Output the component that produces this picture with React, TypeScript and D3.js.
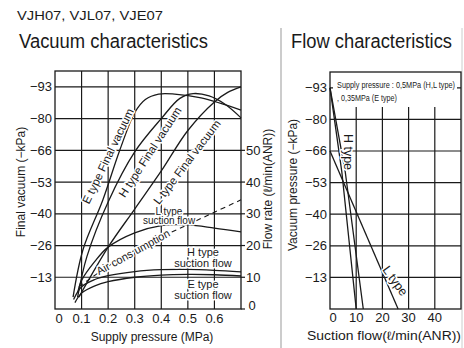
import React from 'react';
import * as d3 from 'd3';

// ---- axis ticks ----
const pressureTicks = [0, 0.1, 0.2, 0.3, 0.4, 0.5, 0.6];
const vacuumTicks = [13.33, 26.67, 40, 53.33, 66.67, 80, 93.33];
const vacuumLabels = ['−13', '−26', '−40', '−53', '−66', '−80', '−93'];
const flowRateTicks = [0, 10, 20, 30, 40, 50];
const suctionTicks = [0, 10, 20, 30, 40];

// ---- vacuum characteristics: [supply pressure MPa, final vacuum kPa] ----
const eFinalVacuum = [[0.068, 5], [0.105, 24.8], [0.18, 45.8], [0.244, 66.8], [0.3, 82.5], [0.34, 88], [0.39, 90.3], [0.45, 90.3], [0.55, 88.7], [0.7, 83.6]];
const hFinalVacuum = [[0.085, 5], [0.12, 22], [0.2, 45], [0.3, 66], [0.4, 80], [0.47, 88.5], [0.52, 90.5], [0.58, 89.5], [0.64, 86], [0.7, 80.3]];
const lFinalVacuum = [[0.09, 5], [0.2, 26], [0.3, 42], [0.4, 58], [0.5, 75], [0.6, 87], [0.65, 91], [0.7, 93.3]];

// [supply pressure MPa, flow l/min]
const lSuctionFlow = [[0.085, 5], [0.1, 9], [0.15, 15], [0.2, 19.5], [0.3, 24], [0.4, 26.3], [0.5, 26.5], [0.6, 25.5], [0.7, 24.3]];
const airConsumption = [[0.09, 7], [0.2, 13.5], [0.3, 18.5], [0.4, 22.7], [0.5, 26.6], [0.6, 30.5], [0.7, 34.4]];
const hSuctionFlow = [[0.07, 3], [0.1, 7], [0.15, 9.3], [0.2, 10.5], [0.3, 11.8], [0.4, 12.4], [0.5, 12.5], [0.6, 12.2], [0.7, 11.7]];
const eSuctionFlow = [[0.075, 2], [0.1, 5], [0.15, 7.3], [0.2, 8.6], [0.3, 10], [0.4, 10.7], [0.5, 10.9], [0.6, 10.8], [0.7, 10.4]];

// ---- flow characteristics: [suction flow l/min, vacuum kPa] ----
const hFlowLine = [[0, 93.3], [4.5, 58], [10, 0]];
const eFlowLine = [[0, 93.3], [5.8, 58], [12.7, 0]];
const lFlowLine = [[0, 66.7], [26, 0]];

const FONT = '"Liberation Sans", Arial, Helvetica, sans-serif';
const INK = '#1a1a1a';

export default function App() {
  // left chart
  const x = d3.scaleLinear().domain([0, 0.7]).range([55, 241]);
  const yV = d3.scaleLinear().domain([0, 100]).range([309, 71]);
  const yF = d3.scaleLinear().domain([0, 75]).range([309, 71]);
  // right chart
  const x2 = d3.scaleLinear().domain([0, 50]).range([330, 461]);
  const y2 = d3.scaleLinear().domain([0, 100]).range([309, 72]);

  const vacLine = d3.line<number[]>().x(d => x(d[0])).y(d => yV(d[1])).curve(d3.curveCatmullRom);
  const flowLine = d3.line<number[]>().x(d => x(d[0])).y(d => yF(d[1])).curve(d3.curveCatmullRom);
  const sucLine = d3.line<number[]>().x(d => x2(d[0])).y(d => y2(d[1]));

  const halo = { stroke: '#fff', strokeWidth: 3, paintOrder: 'stroke' as const, strokeLinejoin: 'round' as const };

  return (
    <svg width={464} height={348} style={{ position: 'absolute', left: 0, top: 0, background: '#fff' }} fontFamily={FONT}>
      <rect width={464} height={348} fill="#fff" />
      {/* header */}
      <text x={17} y={20} fontSize={13.5} textLength={146} lengthAdjust="spacingAndGlyphs" fill={INK}>VJH07, VJL07, VJE07</text>
      <line x1={281} x2={281} y1={28} y2={348} stroke="#999" strokeWidth={1} />
      <line x1={462} x2={462} y1={28} y2={348} stroke="#ccc" strokeWidth={1} />
      <text x={19} y={48} fontSize={19.5} textLength={189} lengthAdjust="spacingAndGlyphs" fill={INK}>Vacuum characteristics</text>
      <text x={291} y={48} fontSize={19.5} textLength={161} lengthAdjust="spacingAndGlyphs" fill={INK}>Flow characteristics</text>

      {/* ===== left: vacuum characteristics ===== */}
      <g stroke={INK} strokeWidth={1.2}>
        {pressureTicks.slice(1).map(t => (
          <line key={'vx' + t} x1={x(t)} x2={x(t)} y1={yV(100)} y2={yV(0)} />
        ))}
        {vacuumTicks.map(t => (
          <line key={'vy' + t} x1={x(0)} x2={x(0.7)} y1={yV(t)} y2={yV(t)} />
        ))}
        {flowRateTicks.map(t => (
          <line key={'fr' + t} x1={x(0.7)} x2={x(0.7) + 4} y1={yF(t)} y2={yF(t)} />
        ))}
      </g>
      <rect x={x(0)} y={yV(100)} width={x(0.7) - x(0)} height={yV(0) - yV(100)} fill="none" stroke={INK} strokeWidth={1.3} />

      <g fontSize={13} fill={INK}>
        {vacuumTicks.map((t, i) => (
          <text key={'vl' + t} x={52} y={yV(t) + 4.5} textAnchor="end">{vacuumLabels[i]}</text>
        ))}
        {pressureTicks.map(t => (
          <text key={'pl' + t} x={x(t) + (t === 0 ? 4 : 0)} y={323} textAnchor="middle">{t === 0 ? '0' : t.toFixed(1)}</text>
        ))}
        {flowRateTicks.map(t => (
          <text key={'fl' + t} x={t === 0 ? 252 : 246} y={yF(t) + (t === 0 ? 1 : 4.5)} textAnchor={t === 0 ? 'middle' : 'start'}>{t}</text>
        ))}
      </g>

      <g fill="none" stroke={INK} strokeWidth={1.3}>
        <path d={vacLine(eFinalVacuum) || ''} />
        <path d={vacLine(hFinalVacuum) || ''} />
        <path d={vacLine(lFinalVacuum) || ''} />
        <path d={flowLine(lSuctionFlow) || ''} />
        <path d={flowLine(hSuctionFlow) || ''} />
        <path d={flowLine(eSuctionFlow) || ''} />
        <path d={flowLine(airConsumption) || ''} strokeDasharray="5,4" strokeWidth={1.1} />
      </g>

      <g fill={INK} fontSize={11.5} textAnchor="middle" {...halo}>
        <text transform="translate(108,156) rotate(-64.4)" y={4}>E type Final vacuum</text>
        <text transform="translate(150,152) rotate(-57)" y={4}>H type Final vacuum</text>
        <text transform="translate(187,162) rotate(-52.6)" y={4}>L type Final vacuum</text>
        <text transform="translate(133,252) rotate(-29)" y={4} fontSize={11}>Air cons umption</text>
      </g>
      <g fill={INK} textAnchor="middle" {...halo}>
        <text x={169} y={215} fontSize={10}>L type</text>
        <text x={169} y={224} fontSize={10}>suction flow</text>
        <text x={203} y={256} fontSize={11}>H type</text>
        <text x={203} y={267} fontSize={11}>suction flow</text>
        <text x={203} y={288} fontSize={11}>E type</text>
        <text x={203} y={299} fontSize={11}>suction flow</text>
      </g>

      <text transform="translate(25,182) rotate(-90)" textAnchor="middle" fontSize={12} fill={INK}>Final vacuum (−kPa)</text>
      <text transform="translate(272,189) rotate(-90)" textAnchor="middle" fontSize={12} fill={INK}>Flow rate (ℓ/min(ANR))</text>
      <text x={152} y={341} textAnchor="middle" fontSize={12} fill={INK}>Supply pressure (MPa)</text>

      {/* ===== right: flow characteristics ===== */}
      <g stroke={INK} strokeWidth={1.2}>
        {suctionTicks.slice(1).map(t => (
          <line key={'sx' + t} x1={x2(t)} x2={x2(t)} y1={107} y2={y2(0)} />
        ))}
        {vacuumTicks.map(t => (
          <line key={'sy' + t} x1={x2(0)} x2={x2(50)} y1={y2(t)} y2={y2(t)} />
        ))}
      </g>
      <rect x={333} y={76} width={124} height={30} fill="#fff" />
      <rect x={x2(0)} y={y2(100)} width={x2(50) - x2(0)} height={y2(0) - y2(100)} fill="none" stroke={INK} strokeWidth={1.3} />
      <g fontSize={8.5} fill={INK}>
        <text x={337} y={88} textLength={118} lengthAdjust="spacingAndGlyphs">Supply pressure : 0,5MPa (H,L type)</text>
        <text x={337} y={101} textLength={60} lengthAdjust="spacingAndGlyphs">, 0,35MPa (E type)</text>
      </g>

      <g fill="none" stroke={INK} strokeWidth={1.3}>
        <path d={sucLine(hFlowLine) || ''} />
        <path d={sucLine(eFlowLine) || ''} />
        <path d={sucLine(lFlowLine) || ''} />
      </g>

      <g fontSize={13} fill={INK}>
        {vacuumTicks.map((t, i) => (
          <text key={'vl2' + t} x={327} y={y2(t) + 4.5} textAnchor="end">{vacuumLabels[i]}</text>
        ))}
        {suctionTicks.map(t => (
          <text key={'sl' + t} x={x2(t) + (t === 0 ? 3 : 0)} y={322} textAnchor="middle">{t}</text>
        ))}
      </g>
      <g fill={INK} fontSize={12.5} textAnchor="middle" {...halo}>
        <text transform="translate(348,152) rotate(90)" y={4}>H type</text>
        <text transform="translate(395,281) rotate(54)" y={4}>L type</text>
      </g>

      <text transform="translate(297,185) rotate(-90)" textAnchor="middle" fontSize={12} fill={INK}>Vacuum pressure (−kPa)</text>
      <text x={307} y={340} fontSize={12} fill={INK} textLength={154} lengthAdjust="spacingAndGlyphs">Suction flow(ℓ/min(ANR))</text>
    </svg>
  );
}
